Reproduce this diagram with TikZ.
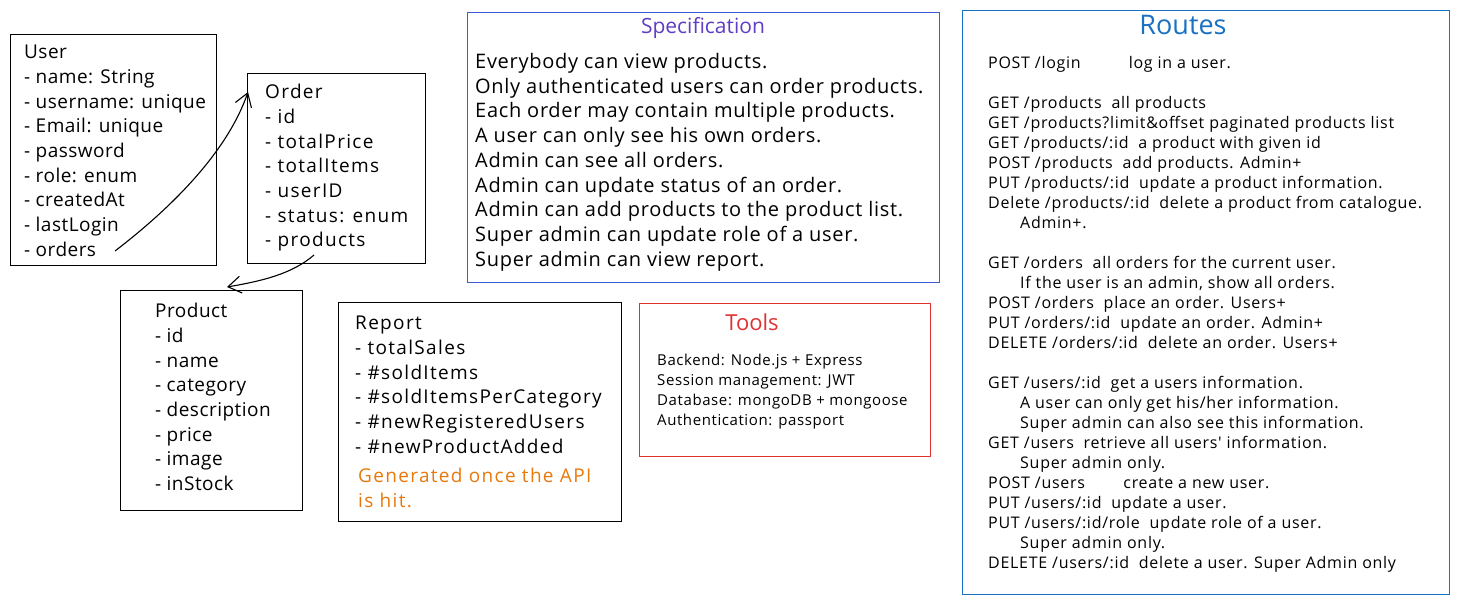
\documentclass[tikz,border=0pt]{standalone}
\usepackage{fontspec}
\setmainfont{Open Sans}
\newfontfamily\listfont[LetterSpace=2.5]{Open Sans}
\newfontfamily\widelistfont[LetterSpace=7]{Open Sans}
\newfontfamily\specfont[LetterSpace=3.5]{Open Sans}
\newfontfamily\routefont[LetterSpace=4.5]{Open Sans}
\newfontfamily\toolfont[LetterSpace=4]{Open Sans}
\usetikzlibrary{arrows.meta,calc}
\definecolor{specblue}{HTML}{3B5BDB}
\definecolor{specviolet}{HTML}{5F3DC4}
\definecolor{routeblue}{HTML}{1971C2}
\definecolor{toolred}{HTML}{E03131}
\definecolor{noteorange}{HTML}{E8790C}
\tikzset{
  box/.style={draw, line width=1.3pt, rectangle, inner sep=0pt, anchor=north west},
  listtext/.style={anchor=north west, inner sep=0pt, align=left, font=\listfont\fontsize{19}{24.7}\selectfont},
  widelisttext/.style={anchor=north west, inner sep=0pt, align=left, font=\widelistfont\fontsize{19}{24.7}\selectfont},
  spectext/.style={anchor=north west, inner sep=0pt, align=left, font=\specfont\fontsize{20}{24.75}\selectfont},
  routetext/.style={anchor=north west, inner sep=0pt, align=left, font=\routefont\fontsize{16}{20}\selectfont},
  tooltext/.style={anchor=north west, inner sep=0pt, align=left, font=\toolfont\fontsize{15}{20}\selectfont},
  link/.style={line width=1.1pt, -{Straight Barb[length=13pt,width=17pt,line width=1.1pt]}},
}
\begin{document}
\begin{tikzpicture}[x=1pt,y=-1pt]
\useasboundingbox[fill=white] (0,0) rectangle (1459,603);
% boxes
\node[box, minimum width=206pt, minimum height=231pt] (userbox) at (10,34) {};
\node[box, minimum width=178pt, minimum height=190pt] (orderbox) at (247,73) {};
\node[box, minimum width=182pt, minimum height=220pt] (productbox) at (120,290) {};
\node[box, minimum width=283pt, minimum height=219pt] (reportbox) at (338,302) {};
\node[box, draw=specblue, minimum width=472pt, minimum height=270pt] (specbox) at (467,12) {};
\node[box, draw=toolred, minimum width=291pt, minimum height=153pt] (toolbox) at (639,303) {};
\node[box, draw=routeblue, minimum width=487pt, minimum height=584pt] (routebox) at (962,10) {};
% texts
\node[listtext] (usertext) at (24,45) {User\\- name: String\\- username: unique\\- Email: unique\\- password\\- role: enum\\- createdAt\\- lastLogin\\- orders};
\node[widelisttext] (ordertext) at (265,84) {Order\\- id\\- totalPrice\\- totalItems\\- userID\\- status: enum\\- products};
\node[listtext] (producttext) at (155,303) {Product\\- id\\- name\\- category\\- description\\- price\\- image\\- inStock};
\node[widelisttext] (reporttext) at (355,316) {Report\\- totalSales\\- \#soldItems\\- \#soldItemsPerCategory\\- \#newRegisteredUsers\\- \#newProductAdded};
\node[widelisttext, text=noteorange] (reportnote) at (358,468) {Generated once the API\\is hit.};
\node[font=\fontsize{21}{24}\selectfont, text=specviolet, inner sep=0pt] (spectitle) at (703,28) {Specification};
\node[spectext] (spectext) at (475,53) {Everybody can view products.\\Only authenticated users can order products.\\Each order may contain multiple products.\\A user can only see his own orders.\\Admin can see all orders.\\Admin can update status of an order.\\Admin can add products to the product list.\\Super admin can update role of a user.\\Super admin can view report.};
\node[font=\fontsize{22}{24}\selectfont, text=toolred, inner sep=0pt] (tooltitle) at (752,322) {Tools};
\node[tooltext] (tooltext) at (657,354) {Backend: Node.js + Express\\Session management: JWT\\Database: mongoDB + mongoose\\Authentication: passport};
\node[font=\fontsize{27}{30}\selectfont, text=routeblue, inner sep=0pt] (routetitle) at (1183,25) {Routes};
\node[routetext] (routetext) at (988,56) {POST /login\hspace{3em}log in a user.\\\mbox{}\\GET /products\ \ all products\\GET /products?limit\&offset paginated products list\\GET /products/:id\ \ a product with given id\\POST /products\ \ add products. Admin+\\PUT /products/:id\ \ update a product information.\\Delete /products/:id\ \ delete a product from catalogue.\\\hspace*{32pt}Admin+.\\\mbox{}\\GET /orders\ \ all orders for the current user.\\\hspace*{32pt}If the user is an admin, show all orders.\\POST /orders\ \ place an order. Users+\\PUT /orders/:id\ \ update an order. Admin+\\DELETE /orders/:id\ \ delete an order. Users+\\\mbox{}\\GET /users/:id\ \ get a users information.\\\hspace*{32pt}A user can only get his/her information.\\\hspace*{32pt}Super admin can also see this information.\\GET /users\ \ retrieve all users' information.\\\hspace*{32pt}Super admin only.\\POST /users\hspace{2.4em}create a new user.\\PUT /users/:id\ \ update a user.\\PUT /users/:id/role\ \ update role of a user.\\\hspace*{32pt}Super admin only.\\DELETE /users/:id\ \ delete a user. Super Admin only};
% connectors
\coordinate (ordersend) at (115,251);
\coordinate (productsend) at (314,255);
\draw[link] (ordersend) .. controls (175,205) and (228,150) .. ($(orderbox.north west)+(1,19)$);
\draw[link] (productsend) .. controls (292,274) and (262,281) .. ($(productbox.north west)+(107,-3)$);
\end{tikzpicture}
\end{document}
